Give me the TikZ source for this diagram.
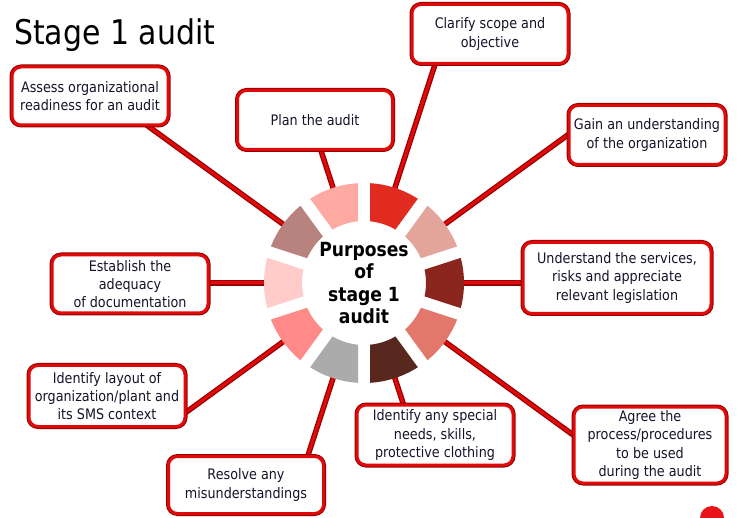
\documentclass[tikz,border=0pt]{standalone}
\usepackage{fontspec}
\setmainfont{DejaVu Sans}[FakeStretch=0.88]
\usetikzlibrary{calc,shadows}
\definecolor{boxred}{HTML}{E00A0A}
\definecolor{boxdark}{HTML}{960000}
\definecolor{txt}{HTML}{14142A}
\definecolor{blobred}{HTML}{E8141A}
\begin{document}
\begin{tikzpicture}[x=1pt,y=-1pt,
  box/.style={rounded corners=9pt, fill=white, draw=boxred, line width=3pt,
    align=center, font=\fontsize{14.5}{18.3}\selectfont, text=txt, inner sep=0pt,
    drop shadow={shadow xshift=1.5pt, shadow yshift=-1.5pt, fill=black!30},
    preaction={draw=boxdark, line width=5pt}},
  conn/.style={draw=boxdark, line width=5.5pt, postaction={draw=boxred, line width=3pt}},
  title/.style={font=\fontsize{34}{40}\selectfont, text=black, inner sep=0pt, anchor=base west},
  hub/.style={font=\bfseries\fontsize{19.5}{22.4}\selectfont, text=black, align=center, inner sep=0pt}]
\clip (0,0) rectangle (744,518);
\fill[white] (0,0) rectangle (744,518);

\coordinate (C) at (364,283);
% connector end points
\foreach \n/\a/\t in {clar/-72/235, gain/-36/256, unde/0/162, agre/36/262, spec/72/132,
  reso/108/187, layo/144/225, esta/180/160, asse/216/270, plan/252/144}{
  \coordinate (s\n) at ($(C)+(\a:90)$);
  \coordinate (e\n) at ($(C)+(\a:\t)$);
}
\foreach \n in {clar,gain,unde,agre,spec,reso,layo,esta,asse,plan}{
  \draw[conn] (s\n) -- (e\n);
}

% ring segments
\begin{scope}[shift={(C)}]
\foreach \a/\col in {-72/E22B20, -36/E3A49C, 0/8A261E, 36/E3776B, 72/58271D,
  108/ABABAB, 144/FF8A88, 180/FFCCCA, 216/B8837F, 252/FFA9A3}{
  \definecolor{segc}{HTML}{\col}
  \fill[segc] (\a+14.56:100) arc[start angle=\a+14.56, end angle=\a-14.56, radius=100]
    -- (\a-12.45:62) arc[start angle=\a-12.45, end angle=\a+12.45, radius=62] -- cycle;
}
\end{scope}

\node[hub] (hubtext) at (C) {Purposes\\of\\stage 1\\audit};

\node[title] (ttl) at (14,45) {Stage 1 audit};

\node[box, minimum width=156pt, minimum height=59pt] (clar) at (490,34) {Clarify scope and\\objective};
\node[box, minimum width=156pt, minimum height=58pt] (asse) at (90,96) {Assess organizational\\readiness for an audit};
\node[box, minimum width=155pt, minimum height=59pt] (plan) at (315,120) {Plan the audit};
\node[box, minimum width=156pt, minimum height=59pt] (gain) at (647,135) {Gain an understanding\\of the organization};
\node[box, minimum width=156pt, minimum height=58pt] (esta) at (130,284) {Establish the\\adequacy\\of documentation};
\node[box, minimum width=188pt, minimum height=71pt] (unde) at (617,278) {Understand the services,\\risks and appreciate\\relevant legislation};
\node[box, minimum width=156pt, minimum height=61pt] (layo) at (107,396) {Identify layout of\\organization/plant and\\its SMS context};
\node[box, minimum width=156pt, minimum height=60pt] (spec) at (435,435) {Identify any special\\needs, skills,\\protective clothing};
\node[box, minimum width=152pt, minimum height=76pt] (agre) at (650,445) {Agree the\\process/procedures\\to be used\\during the audit};
\node[box, minimum width=155pt, minimum height=57pt] (reso) at (246,485) {Resolve any\\misunderstandings};

\fill[blobred] (712,518) circle (12);
\end{tikzpicture}
\end{document}
